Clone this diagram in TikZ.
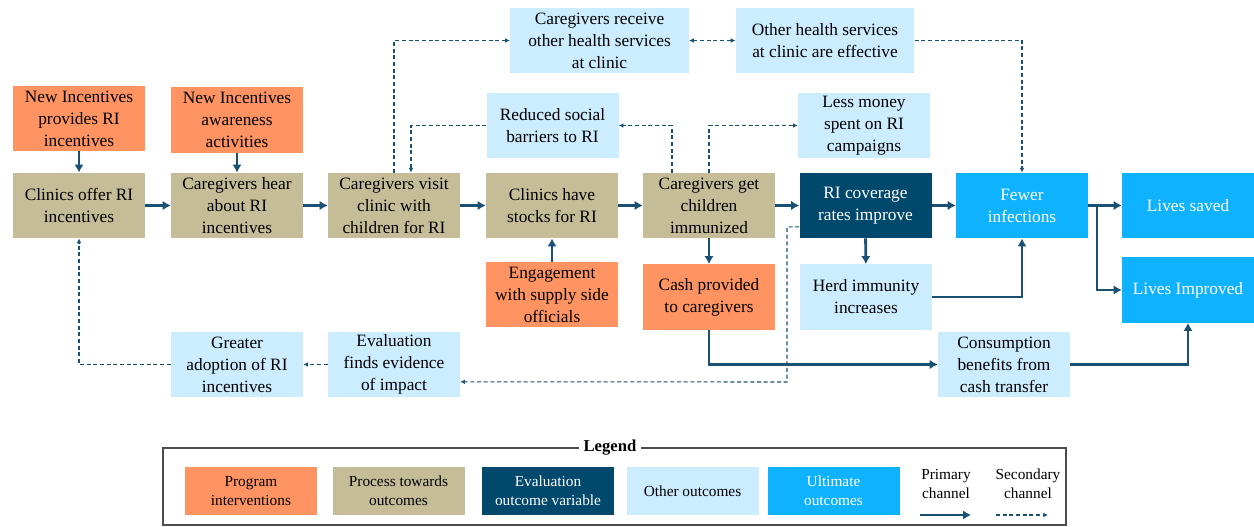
\documentclass[tikz,border=0pt]{standalone}
\usepackage{fontspec}
\setmainfont{Liberation Serif}
\usepackage{xcolor}
\usetikzlibrary{shapes,arrows,arrows.meta}
\definecolor{progcol}{RGB}{255,148,98}
\definecolor{proccol}{RGB}{196,189,151}
\definecolor{evalcol}{RGB}{0,72,108}
\definecolor{othcol}{RGB}{204,236,255}
\definecolor{ultcol}{RGB}{14,178,255}
\definecolor{arrcol}{RGB}{25,80,115}

\begin{document}
\begin{tikzpicture}[x = 0.75pt, y = -0.75pt]
\tikzstyle{box} = [rectangle, minimum width = 99pt, minimum height = 49pt, inner sep = 1pt, align = center, font = \fontsize{13}{16.5}\selectfont]
\tikzstyle{prog} = [box, fill = progcol]
\tikzstyle{proc} = [box, fill = proccol]
\tikzstyle{evalv} = [box, fill = evalcol, text = white]
\tikzstyle{oth} = [box, fill = othcol]
\tikzstyle{ult} = [box, fill = ultcol, text = white]
\tikzstyle{key} = [minimum width = 99pt, minimum height = 36pt, font = \fontsize{11.5}{14}\selectfont]
\tikzstyle{pri} = [draw = arrcol, line width = 2.2pt, -{Latex[length = 6pt, width = 7pt]}]
\tikzstyle{sec} = [draw = arrcol, line width = 0.8pt, dash pattern = on 3pt off 2pt, -{Latex[length = 3.5pt, width = 3.5pt]}]
\useasboundingbox (0,0) rectangle (1254,527);
\node[prog] (provides) at (79,118.5) {New Incentives\\provides RI\\incentives};
\node[prog] (aware) at (237,120) {New Incentives\\awareness\\activities};
\node[proc] (offer) at (79,205.5) {Clinics offer RI\\incentives};
\node[proc] (hear) at (237,205.5) {Caregivers hear\\about RI\\incentives};
\node[proc] (visit) at (394,205.5) {Caregivers visit\\clinic with\\children for RI};
\node[proc] (stocks) at (552,205.5) {Clinics have\\stocks for RI};
\node[proc] (get) at (709,205.5) {Caregivers get\\children\\immunized};
\node[evalv] (cover) at (865.5,205.5) {RI coverage\\rates improve};
\node[ult] (fewer) at (1022,205.5) {Fewer\\infections};
\node[ult] (saved) at (1188,205.5) {Lives saved};
\node[oth, minimum width = 134pt] (receive) at (599.5,40.5) {Caregivers receive\\other health services\\at clinic};
\node[oth, minimum width = 134pt] (other) at (825,40.5) {Other health services\\at clinic are effective};
\node[oth] (reduced) at (552.5,125.5) {Reduced social\\barriers to RI};
\node[oth] (less) at (864,125.5) {Less money\\spent on RI\\campaigns};
\node[prog] (engage) at (552,294.5) {Engagement\\with supply side\\officials};
\node[prog] (cash) at (709,297) {Cash provided\\to caregivers};
\node[oth] (herd) at (866,297) {Herd immunity\\increases};
\node[ult] (improved) at (1188,290) {Lives Improved};
\node[oth] (greater) at (237,364.5) {Greater\\adoption of RI\\incentives};
\node[oth] (evalf) at (394,364.5) {Evaluation\\finds evidence\\of impact};
\node[oth] (consume) at (1004,364.5) {Consumption\\benefits from\\cash transfer};
\coordinate (split) at (1097,205.5);
\coordinate (turn) at (787,382);
\draw[pri] (provides) -- (offer);
\draw[pri] (aware) -- (hear);
\draw[pri] (offer) -- (hear);
\draw[pri] (hear) -- (visit);
\draw[pri] (visit) -- (stocks);
\draw[pri] (stocks) -- (get);
\draw[pri] (get) -- (cover);
\draw[pri] (cover) -- (fewer);
\draw[pri] (fewer) -- (saved);
\draw[pri] (split) |- (improved.west);
\draw[pri] (engage) -- (stocks);
\draw[pri] (get) -- (cash);
\draw[pri] (cover) -- (herd);
\draw[pri] (herd.east) -| (fewer.south);
\draw[pri] (cash.south) |- (consume.west);
\draw[pri] (consume.east) -| (improved.south);
\draw[sec] (visit.north) |- (receive.west);
\draw[sec] (reduced.west) -| ([xshift = 12.75pt]visit.north);
\draw[sec, {Latex[length = 3.5pt, width = 3.5pt]}-{Latex[length = 3.5pt, width = 3.5pt]}] (receive) -- (other);
\draw[sec] (other.east) -| (fewer.north);
\draw[sec] ([xshift = -27.75pt]get.north) |- (reduced.east);
\draw[sec] (get.north) |- (less.west);
\draw[sec] ([yshift = -16pt]cover.west) -| (turn) -- ([yshift = -13pt]evalf.east);
\draw[sec] (evalf) -- (greater);
\draw[sec] (greater.west) -| (offer.south);
\draw[draw = gray!60!black, line width = 1.8pt] (163,448) rectangle (1066,525);
\node[fill = white, font = \bfseries\fontsize{12.5}{14}\selectfont] (legend) at (610,448) {Legend};
\node[key, fill = progcol, align = center] (kprog) at (251,491) {Program\\interventions};
\node[key, fill = proccol, align = center] (kproc) at (398.5,491) {Process towards\\outcomes};
\node[key, fill = evalcol, text = white, align = center] (keval) at (548,491) {Evaluation\\outcome variable};
\node[key, fill = othcol, align = center] (koth) at (692.5,491) {Other outcomes};
\node[key, fill = ultcol, text = white, align = center] (kult) at (833.5,491) {Ultimate\\outcomes};
\node[align = center, font = \fontsize{11.5}{14}\selectfont] (kpri) at (946,484) {Primary\\channel};
\node[align = center, font = \fontsize{11.5}{14}\selectfont] (ksec) at (1028,484) {Secondary\\channel};
\coordinate (p1) at (920,515);
\coordinate (p2) at (971,515);
\coordinate (s1) at (996,515);
\coordinate (s2) at (1048,515);
\draw[pri] (p1) -- (p2);
\draw[sec] (s1) -- (s2);
\end{tikzpicture}
\end{document}
